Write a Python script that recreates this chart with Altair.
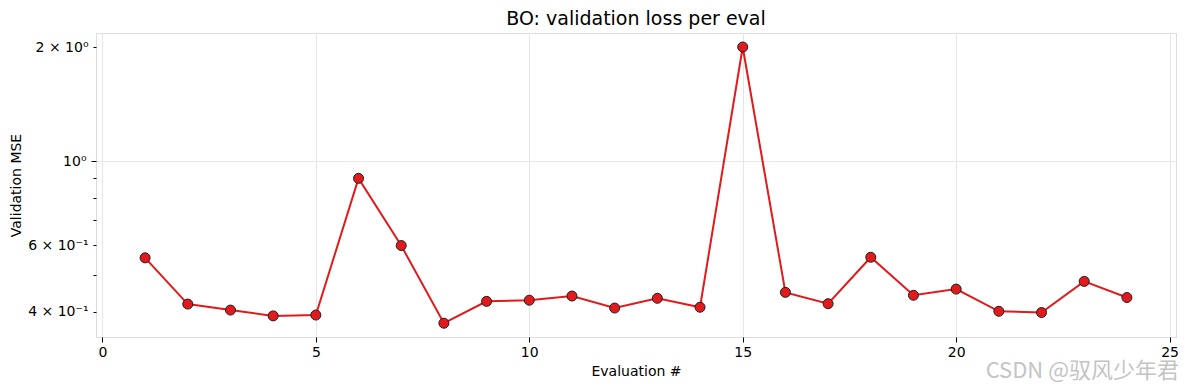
import altair as alt
import pandas as pd

# ---- data ----
evals = list(range(1, 25))
mse = [0.555, 0.419, 0.404, 0.390, 0.392, 0.900, 0.598, 0.373,
       0.426, 0.429, 0.440, 0.409, 0.434, 0.411, 2.00, 0.450,
       0.420, 0.557, 0.442, 0.459, 0.401, 0.398, 0.481, 0.436]

x_ticks = [0, 5, 10, 15, 20, 25]
y_ticks = [0.4, 0.5, 0.6, 0.7, 0.8, 0.9, 1.0, 2.0]
title_text = "BO: validation loss per eval"
x_title = "Evaluation #"
y_title = "Validation MSE"
watermark = "CSDN @驭风少年君"

df = pd.DataFrame({"eval": evals, "mse": mse})

W, H = 1080, 304
FONT = "DejaVu Sans"
RED = "#e31a1c"

x_enc = alt.X(
    "eval:Q",
    scale=alt.Scale(domain=[-0.15, 25.15], nice=False, zero=False),
    axis=alt.Axis(
        values=x_ticks, title=x_title, grid=True, gridColor="#e6e6e6",
        gridWidth=1, domain=False, tickColor="black", tickSize=5,
        labelPadding=3, labelFontSize=14, labelFont=FONT, labelColor="black",
        titleFont=FONT, titleFontSize=14, titleFontWeight="normal",
        titleColor="black", titleX=W / 2, titleY=34, titleBaseline="middle",
        titleAlign="center",
    ),
)

label_expr = (
    "datum.value == 2 ? '2 × 10⁰' : datum.value == 1 ? '10⁰' : "
    "abs(datum.value - 0.6) < 1e-6 ? '6 × 10⁻¹' : "
    "abs(datum.value - 0.4) < 1e-6 ? '4 × 10⁻¹' : ''"
)

y_enc = alt.Y(
    "mse:Q",
    scale=alt.Scale(type="log", domain=[0.343, 2.178], nice=False, zero=False),
    axis=alt.Axis(
        values=y_ticks, labelExpr=label_expr, title=y_title,
        grid=True, gridColor="#e6e6e6", gridWidth=1,
        gridOpacity={"condition": {"test": "datum.value == 1", "value": 1}, "value": 0},
        tickSize={"condition": {"test": "datum.value == 1", "value": 5}, "value": 3},
        domain=False, tickColor="black", labelPadding=5,
        labelFontSize=14, labelFont=FONT, labelColor="black",
        titleFont=FONT, titleFontSize=14, titleFontWeight="normal",
        titleColor="black", titleX=-80, titleY=H / 2, titleAngle=-90,
        titleBaseline="middle", titleAlign="center", labelOverlap=False,
    ),
)

line = alt.Chart(df).mark_line(color=RED, strokeWidth=2).encode(x=x_enc, y=y_enc)
points = alt.Chart(df).mark_point(
    shape="circle", filled=True, size=100, color=RED, stroke="#1f1f1f",
    strokeWidth=1, opacity=1,
).encode(x=x_enc, y=y_enc)

title_mark = alt.Chart(pd.DataFrame({"t": [title_text]})).mark_text(
    align="center", baseline="alphabetic", font=FONT, fontSize=19,
    color="black",
).encode(text="t:N", x=alt.value(W / 2), y=alt.value(-8))

wm = alt.Chart(pd.DataFrame({"t": [watermark]})).mark_text(
    align="right", baseline="middle", font="Noto Sans CJK SC", fontSize=22,
    color="#c4c4c4",
).encode(text="t:N", x=alt.value(W + 3), y=alt.value(H + 34))

chart = (
    alt.layer(line, points, title_mark, wm)
    .properties(
        width=W, height=H,
        autosize=alt.AutoSizeParams(type="none"),
        padding={"left": 88, "top": 25, "right": 5, "bottom": 45},
    )
    .configure_view(stroke="black", strokeWidth=1)
    .configure(background="white")
)

chart.save("out.html", embed_options={"renderer": "svg", "actions": False})
